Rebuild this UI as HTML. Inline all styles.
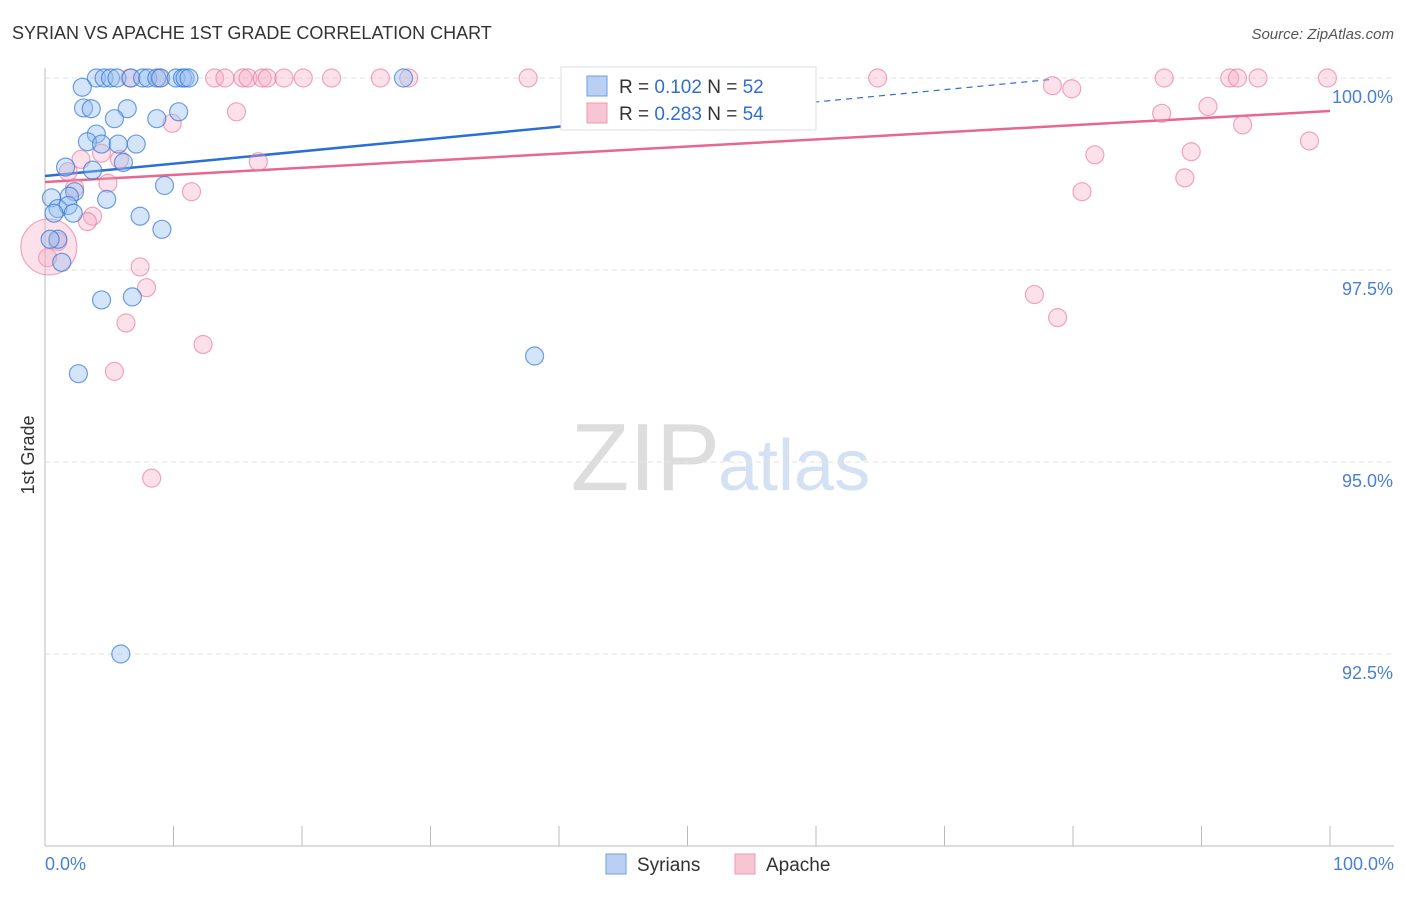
<!DOCTYPE html>
<html><head><meta charset="utf-8"><style>
body{margin:0;background:#fff;font-family:"Liberation Sans",sans-serif}
svg text{font-family:"Liberation Sans",sans-serif}
</style></head><body>
<svg width="1406" height="892">
<text x="12" y="39" font-size="18" fill="#333">SYRIAN VS APACHE 1ST GRADE CORRELATION CHART</text>
<text x="1394" y="39" font-size="15" fill="#555" font-style="italic" text-anchor="end">Source: ZipAtlas.com</text>
<text x="720" y="490" font-size="96" fill="#ddd" text-anchor="end" font-family="Liberation Serif">ZIP</text>
<text x="718" y="490" font-size="72" fill="#d3e1f3">atlas</text>
<g id="grid"></g>
<line x1="45" y1="68" x2="45" y2="846" stroke="#bbb"/>
<line x1="45" y1="846" x2="1394" y2="846" stroke="#bbb"/>
<text x="34" y="455" font-size="18" fill="#333" transform="rotate(-90 34 455)" text-anchor="middle">1st Grade</text>
<text x="45" y="870" font-size="18" fill="#4a7fd6">0.0%</text>
<text x="1394" y="870" font-size="18" fill="#4a7fd6" text-anchor="end">100.0%</text>
<g id="lines"></g>
<g id="pts"></g>
<g>
<rect x="561" y="67" width="255" height="63" fill="#fff" stroke="#ddd"/>
<rect x="587" y="76" width="20" height="20" fill="#b9d0f2" stroke="#6f9ee0"/>
<text x="619" y="93" font-size="19" fill="#333">R = <tspan fill="#2f6fd0">0.102</tspan>    N = <tspan fill="#2f6fd0">52</tspan></text>
<rect x="587" y="103" width="20" height="20" fill="#f8c5d4" stroke="#ec9ab3"/>
<text x="619" y="120" font-size="19" fill="#333">R = <tspan fill="#2f6fd0">0.283</tspan>    N = <tspan fill="#2f6fd0">54</tspan></text>
</g>
<g><rect x="606" y="854" width="20" height="20" fill="#b9d0f2" stroke="#6f9ee0"/><text x="637" y="871" font-size="19" fill="#333">Syrians</text></g>
<g><rect x="735" y="854" width="20" height="20" fill="#f8c5d4" stroke="#ec9ab3"/><text x="766" y="871" font-size="19" fill="#333">Apache</text></g>
</svg>
<script>
const yTicks=[100,97.5,95,92.5];
const yTickLabels=["100.0%","97.5%","95.0%","92.5%"];
const xTicks=[0,10,20,30,40,50,60,70,80,90,100];
const syrX=[4.0,4.6,5.1,5.6,6.7,7.6,8.0,8.7,9.0,10.2,10.7,10.9,11.2,27.9,47.0,2.9,3.0,3.6,6.4,10.4,8.7,5.4,4.0,3.3,4.4,5.7,7.1,1.6,3.7,6.1,9.3,2.3,1.9,0.5,4.8,1.0,1.8,2.2,0.7,7.4,9.1,1.0,0.4,1.3,4.4,6.8,2.6,38.1,5.9];
const syrY=[100,100,100,100,100,100,100,100,100,100,100,100,100,100,100,99.88,99.61,99.6,99.6,99.56,99.47,99.47,99.27,99.17,99.14,99.14,99.14,98.84,98.8,98.9,98.6,98.52,98.46,98.44,98.42,98.3,98.34,98.24,98.24,98.2,98.03,97.9,97.9,97.6,97.11,97.15,96.15,96.38,92.5];
const apaX=[6.6,8.9,13.2,14.0,15.4,15.8,16.9,17.3,18.6,20.1,22.3,26.1,28.3,37.6,64.8,87.1,92.2,92.8,94.4,99.8,78.4,79.9,14.9,9.9,86.9,90.5,93.2,98.4,81.7,89.2,4.4,2.8,5.8,16.6,1.8,80.7,88.7,4.9,2.3,11.4,3.7,3.3,1.0,0.2,7.4,7.9,77.0,78.8,6.3,12.3,5.4,8.3,0.3];
const apaY=[100,100,100,100,100,100,100,100,100,100,100,100,100,100,100,100,100,100,100,100,99.9,99.86,99.56,99.41,99.54,99.63,99.39,99.18,99.0,99.04,99.02,98.94,98.94,98.91,98.78,98.52,98.7,98.63,98.57,98.52,98.2,98.13,97.87,97.66,97.54,97.27,97.18,96.88,96.81,96.53,96.18,94.79,97.8];
const apaR=[12,12,12,12,12,12,12,12,12,12,12,12,12,12,12,12,12,12,12,12,12,12,12,12,12,12,12,12,12,12,12,12,12,12,12,12,12,12,12,12,12,12,12,12,12,12,12,12,12,12,12,12,28];
const syrTrend=[98.724,100.33];
const apaTrend=[98.646,99.57];
const NS="http://www.w3.org/2000/svg";
const X=v=>45+v*12.85, Y=v=>78+(100-v)*76.8;
function mk(t,a,p){const e=document.createElementNS(NS,t);for(const k in a)e.setAttribute(k,a[k]);p.appendChild(e);return e;}
const g=document.getElementById('grid');
yTicks.forEach((t,i)=>{
 const l=mk('line',{x1:45,x2:1394,y1:Y(t),y2:Y(t),stroke:'#e2e2e2','stroke-dasharray':'5,4'},g);
 
 
 const tx=mk('text',{x:1393,y:Y(t)+25,'font-size':18,fill:'#4a7fd6','text-anchor':'end'},g);
 tx.textContent=yTickLabels[i];
 
 
});
xTicks.forEach(t=>{
 const l=mk('line',{x1:X(t),x2:X(t),y1:826,y2:846,stroke:'#bbb'},g);
 
 
});
const L=document.getElementById('lines');
let b1=mk('line',{x1:X(0),y1:Y(syrTrend[0]),x2:X(47),y2:Y(syrTrend[0]+(syrTrend[1]-syrTrend[0])*0.47),stroke:'#2a6fd6','stroke-width':2.5},L);


let b2=mk('line',{x1:X(47),y1:Y(syrTrend[0]+(syrTrend[1]-syrTrend[0])*0.47),x2:X(78.5),y2:Y(syrTrend[0]+(syrTrend[1]-syrTrend[0])*0.785),stroke:'#2a6fd6','stroke-width':1.2,'stroke-dasharray':'6,5'},L);


let p1=mk('line',{x1:X(0),y1:Y(apaTrend[0]),x2:X(100),y2:Y(apaTrend[1]),stroke:'#e8678f','stroke-width':2.5},L);


const P=document.getElementById('pts');
apaX.forEach((x,i)=>{
 const c=mk('circle',{cx:X(x),cy:Y(apaY[i]),r:apaR[i]===12?9:28,fill:'rgba(245,170,195,0.35)',stroke:'rgba(232,110,150,0.6)','stroke-width':1.2},P);
 
 
});
syrX.forEach((x,i)=>{
 const c=mk('circle',{cx:X(x),cy:Y(syrY[i]),r:9,fill:'rgba(150,190,240,0.4)',stroke:'rgba(50,120,215,0.7)','stroke-width':1.2},P);
 
 
});
</script>
</body></html>
